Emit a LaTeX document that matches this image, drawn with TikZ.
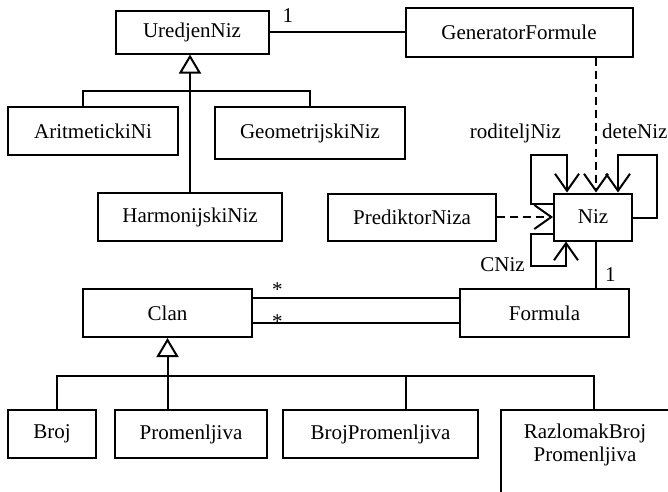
\documentclass[tikz,border=0pt]{standalone}
\usepackage{fontspec}
\setmainfont{Liberation Serif}
\usetikzlibrary{arrows.meta,positioning}
\newcommand\umlfont{\fontsize{21}{23}\selectfont}
\tikzset{
  cls/.style   ={draw,line width=2pt,minimum height=48pt,inner sep=4pt,
                 align=center,font=\umlfont},
  assoc/.style ={line width=2pt},
  nav/.style   ={assoc,-{Straight Barb[length=17pt,width=24pt]}},
  dep/.style   ={nav,dash pattern=on 8pt off 5pt},
  gen/.style   ={assoc,-{Triangle[open,length=19pt,width=22pt]}},
  lbl/.style   ={font=\umlfont,inner sep=0pt},
}

\begin{document}
\begin{tikzpicture}[x=1pt,y=-1pt]
  \useasboundingbox (0,0) rectangle (668,491);

  % sequences
  \node[cls,minimum width=153pt,minimum height=43pt] (uredjen) at (192,32) {UredjenNiz};
  \node[cls,minimum width=227pt,minimum height=49pt,right=135pt of uredjen] (generator) {GeneratorFormule};
  \node[cls,minimum width=170pt] (aritm) at (93,131) {AritmetickiNi};
  \node[cls,minimum width=190pt,minimum height=52pt,right=35pt of aritm,yshift=-2pt] (geom) {GeometrijskiNiz};
  \node[cls,minimum width=184pt] (harm) at (190,217) {HarmonijskiNiz};
  \node[cls,minimum width=168pt,minimum height=47pt,right=44pt of harm] (prediktor) {PrediktorNiza};
  \node[cls,minimum width=78pt,minimum height=47pt,right=56pt of prediktor] (niz) {Niz};

  % terms
  \node[cls,minimum width=169pt] (clan) at (167.5,313) {Clan};
  \node[cls,minimum width=169pt,right=206pt of clan] (formula) {Formula};
  \node[cls,minimum width=88pt] (broj) at (52,434) {Broj};
  \node[cls,minimum width=152pt,right=17pt of broj] (promen) {Promenljiva};
  \node[cls,minimum width=195pt,right=14pt of promen] (brojpromen) {BrojPromenljiva};
  \node[cls,minimum width=168pt,inner ysep=14pt,text depth=70pt,
        right=21pt of brojpromen.north east,anchor=north west] (razlomak)
    {RazlomakBroj\\Promenljiva};

  % associations
  \draw[assoc] (uredjen) -- (generator)
    node[lbl,pos=0,anchor=base west,xshift=12pt,yshift=10pt] (m1) {1};
  \draw[dep] ([xshift=3pt]niz.north |- generator.south) -- ([xshift=3pt]niz.north);
  \draw[dep] (prediktor) -- (niz);
  \draw[assoc] ([xshift=3pt]niz.south) -- ([xshift=3pt]niz.south |- formula.north)
    node[lbl,anchor=base west,xshift=8pt,yshift=7pt] (m2) {1};
  \draw[assoc] ([yshift=15pt]clan.east) -- ([yshift=15pt]clan.east -| formula.west)
    node[lbl,pos=0,anchor=base west,xshift=18pt,yshift=2pt] (s1) {*};
  \draw[assoc] ([yshift=-10pt]clan.east) -- ([yshift=-10pt]clan.east -| formula.west)
    node[lbl,pos=0,anchor=base west,xshift=18pt,yshift=-5pt] (s2) {*};

  % self references of Niz
  \draw[nav] ([yshift=13pt]niz.west) -| ([xshift=-22pt,yshift=38pt]niz.north west)
    -| ([xshift=14pt]niz.north west);
  \draw[nav] ([yshift=-1pt]niz.east) -| ([xshift=24pt,yshift=38pt]niz.north east)
    -| ([xshift=-15pt]niz.north east);
  \draw[nav] ([yshift=-17pt]niz.west) -| ([xshift=-22pt,yshift=-24pt]niz.south west)
    -| ([xshift=13pt]niz.south west);
  \node[lbl,anchor=base east] (rodlbl) at ([xshift=8pt,yshift=54pt]niz.north west) {roditeljNiz};
  \node[lbl,anchor=base west] (detelbl) at ([xshift=9pt,yshift=54pt]niz.north) {deteNiz};
  \node[lbl,anchor=base east] (cnizlbl) at ([xshift=-28pt,yshift=-30pt]niz.south west) {CNiz};

  % inheritance
  \draw[gen] (harm.north) -- (harm.north |- uredjen.south);
  \draw[assoc] ([xshift=-10pt]aritm.north) -- ++(0,-15) -| (geom.north);
  \draw[gen] (clan.south |- promen.north) -- (clan.south);
  \draw[assoc] ([xshift=5pt]broj.north) -- ++(0,-33) -| ([xshift=9pt]razlomak.north);
  \draw[assoc] ([xshift=25pt]brojpromen.north) -- ++(0,-33);
\end{tikzpicture}
\end{document}
